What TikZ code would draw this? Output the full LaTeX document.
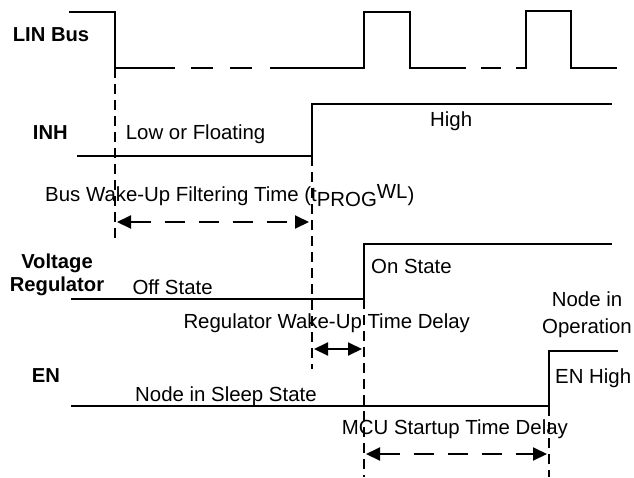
\documentclass[tikz,border=0pt]{standalone}
\usepackage{fontspec}
\setmainfont{Liberation Sans}
\usetikzlibrary{arrows.meta}
\begin{document}
\begin{tikzpicture}[x=1pt,y=-1pt,
  wave/.style={line width=2pt, line join=miter},
  guide/.style={line width=2pt, dash pattern=on 10pt off 6pt},
  dimarrow/.style={line width=2pt, dash pattern=on 20pt off 14pt,
    {Triangle[length=14pt,width=13pt]}-{Triangle[length=14pt,width=13pt]}},
  lbl/.style={font=\fontsize{20.4}{23}\selectfont, inner sep=0pt, anchor=base west},
  sig/.style={font=\bfseries\fontsize{20.2}{23}\selectfont, inner sep=0pt, anchor=base west}]
\useasboundingbox (0,0) rectangle (634,477);
% LIN bus waveform
\draw[wave] (69,12) -- (115,12) -- (115,68) -- (175,68);
\draw[wave] (191,68) -- (213,68);
\draw[wave] (230,68) -- (252,68);
\draw[wave] (270,68) -- (364,68) -- (364,12) -- (410,12) -- (410,68) -- (466,68);
\draw[wave] (481,68) -- (501,68);
\draw[wave] (516,68) -- (526,68) -- (526,11) -- (571,11) -- (571,68) -- (617,68);
% INH
\draw[wave] (77,156) -- (312,156) -- (312,104) -- (612,104);
% Voltage regulator
\draw[wave] (71,299) -- (364,299) -- (364,244) -- (612,244);
% EN
\draw[wave] (71,406) -- (549,406) -- (549,351) -- (618,351);
% guide lines
\coordinate (g1a) at (115,68);  \coordinate (g1b) at (115,243);
\coordinate (g2a) at (312,156); \coordinate (g2b) at (312,369);
\coordinate (g3a) at (364,299); \coordinate (g3b) at (364,477);
\coordinate (g4a) at (549,406); \coordinate (g4b) at (549,477);
\draw[guide] (g1a) -- (g1b);
\draw[guide] (g2a) -- (g2b);
\draw[guide] (g3a) -- (g3b);
\draw[guide] (g4a) -- (g4b);
% dimension arrows
\coordinate (d1a) at (117,222); \coordinate (d1b) at (309,222);
\coordinate (d2a) at (314,349); \coordinate (d2b) at (362,349);
\coordinate (d3a) at (366,454); \coordinate (d3b) at (547,454);
\draw[dimarrow] (d1a) -- (d1b);
\draw[dimarrow] (d2a) -- (d2b);
\draw[dimarrow] (d3a) -- (d3b);
% signal names
\node[sig] (lin) at (12.7,41) {LIN Bus};
\node[sig] (inh) at (32.7,139) {INH};
\node[font=\bfseries\fontsize{20.2}{22.7}\selectfont, inner sep=0pt, align=center, anchor=base] (vreg) at (57,291.3) {Voltage\\Regulator};
\node[sig] (en) at (31.7,382.7) {EN};
% state labels
\node[lbl] (low) at (125.7,139) {Low or Floating};
\node[lbl] (high) at (430,126) {High};
\node[lbl] (busw) at (45,201.7) {Bus Wake-Up Filtering Time (t\raisebox{-5pt}{PROG}\raisebox{3.5pt}{WL})};
\node[lbl] (off) at (132.3,294.3) {Off State};
\node[lbl] (on) at (371,273) {On State};
\node[lbl] (regw) at (183.3,328.7) {Regulator Wake-Up Time Delay};
\node[lbl] (sleep) at (135,401) {Node in Sleep State};
\node[font=\fontsize{20.4}{27.4}\selectfont, inner sep=0pt, align=center, anchor=base] (oper) at (587,333.7) {Node in\\Operation};
\node[lbl] (enh) at (555,383.7) {EN High};
\node[lbl] (mcu) at (341.7,434.3) {MCU Startup Time Delay};
\end{tikzpicture}
\end{document}
